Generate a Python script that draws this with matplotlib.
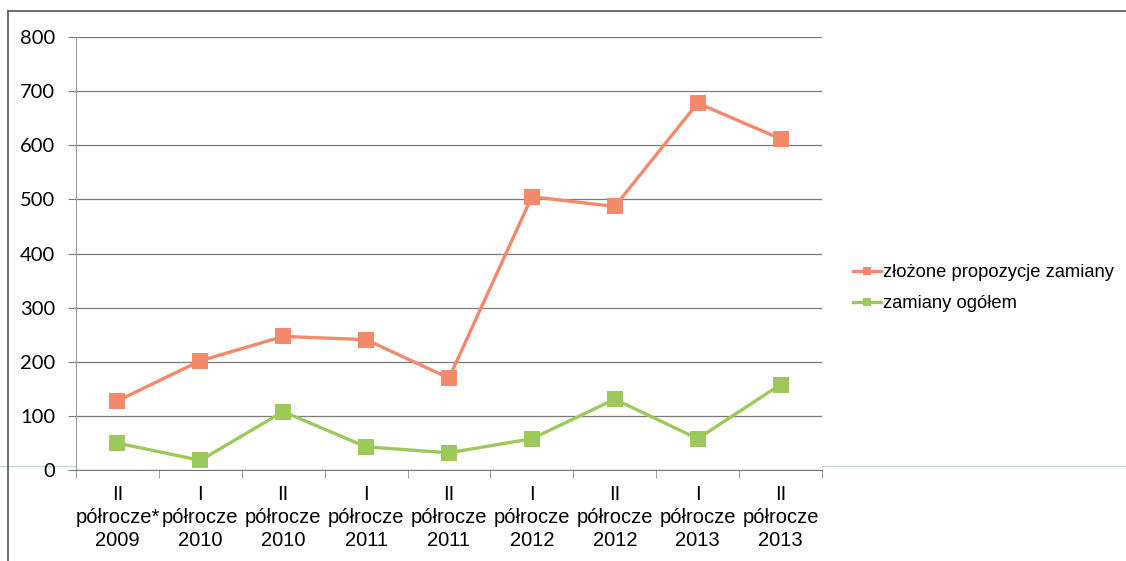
import numpy as np
import matplotlib
matplotlib.use('agg')
from matplotlib import pyplot as plt
from matplotlib.lines import Line2D

# half-year periods
halves = ['II', 'I', 'II', 'I', 'II', 'I', 'II', 'I', 'II']
years = ['2009', '2010', '2010', '2011', '2011', '2012', '2012', '2013', '2013']
periodWords = ['półrocze*'] + ['półrocze'] * 8

proposals = [128, 202, 247, 241, 170, 505, 487, 678, 612]
exchanges = [50, 18, 108, 43, 32, 58, 131, 58, 158]

seriesNames = ['złożone propozycje zamiany', 'zamiany ogółem']
seriesColors = ['#F4896B', '#9DC85C']

yTicks = [0, 100, 200, 300, 400, 500, 600, 700, 800]

plt.rcParams['font.family'] = ['Liberation Sans', 'DejaVu Sans']

fig = plt.figure(figsize=(11.26, 5.61), dpi=100)
ax = fig.add_axes([0.0675, 0.162, 0.6625, 0.772])

xPos = np.arange(len(proposals))
for values, name, color in zip([proposals, exchanges], seriesNames, seriesColors):
    ax.plot(xPos, values, color=color, lw=2.4, marker='s', markersize=11.5,
            markeredgewidth=0, label=name, zorder=3)

ax.set_xlim(-0.5, len(proposals) - 0.5)
ax.set_ylim(0, 800)
ax.set_yticks(yTicks)
ax.set_yticklabels([str(v) for v in yTicks], fontsize=14.5, family='Lato')
ax.yaxis.grid(True, color='#7a7a7a', lw=0.9)
ax.set_axisbelow(True)

# category labels sit under the ticks placed between categories
ax.set_xticks(xPos)
ax.set_xticklabels(['{}\n{}\n{}'.format(h, p, y) for h, p, y in zip(halves, periodWords, years)],
                   fontsize=14.5, linespacing=1.25)
ax.tick_params(axis='x', length=0, pad=11)
ax.set_xticks(np.arange(len(proposals) + 1) - 0.5, minor=True)
ax.tick_params(axis='x', which='minor', length=6, color='#888888', direction='out')
ax.tick_params(axis='y', length=6, color='#7a7a7a', pad=9)

for side in ['top', 'right']:
    ax.spines[side].set_visible(False)
ax.spines['left'].set_color('#9a9a9a')
ax.spines['bottom'].set_color('#8a7070')

leg = ax.legend(loc='center left', bbox_to_anchor=(1.02, 0.42), frameon=False,
                fontsize=13.2, handlelength=1.5, labelspacing=0.75, handletextpad=0.1,
                markerscale=0.5)

# outer frame of the scanned chart
fig.add_artist(Line2D([8 / 1126, 8 / 1126], [0, 1 - 11 / 561], transform=fig.transFigure,
                      color='#555555', lw=1.2))
fig.add_artist(Line2D([8 / 1126, 1], [1 - 11 / 561, 1 - 11 / 561], transform=fig.transFigure,
                      color='#555555', lw=1.2))
fig.add_artist(Line2D([0, 1], [1 - 466 / 561, 1 - 466 / 561], transform=fig.transFigure,
                      color='#b8ddd8', lw=1.0, zorder=0))

fig.savefig('out.png', dpi=100)
